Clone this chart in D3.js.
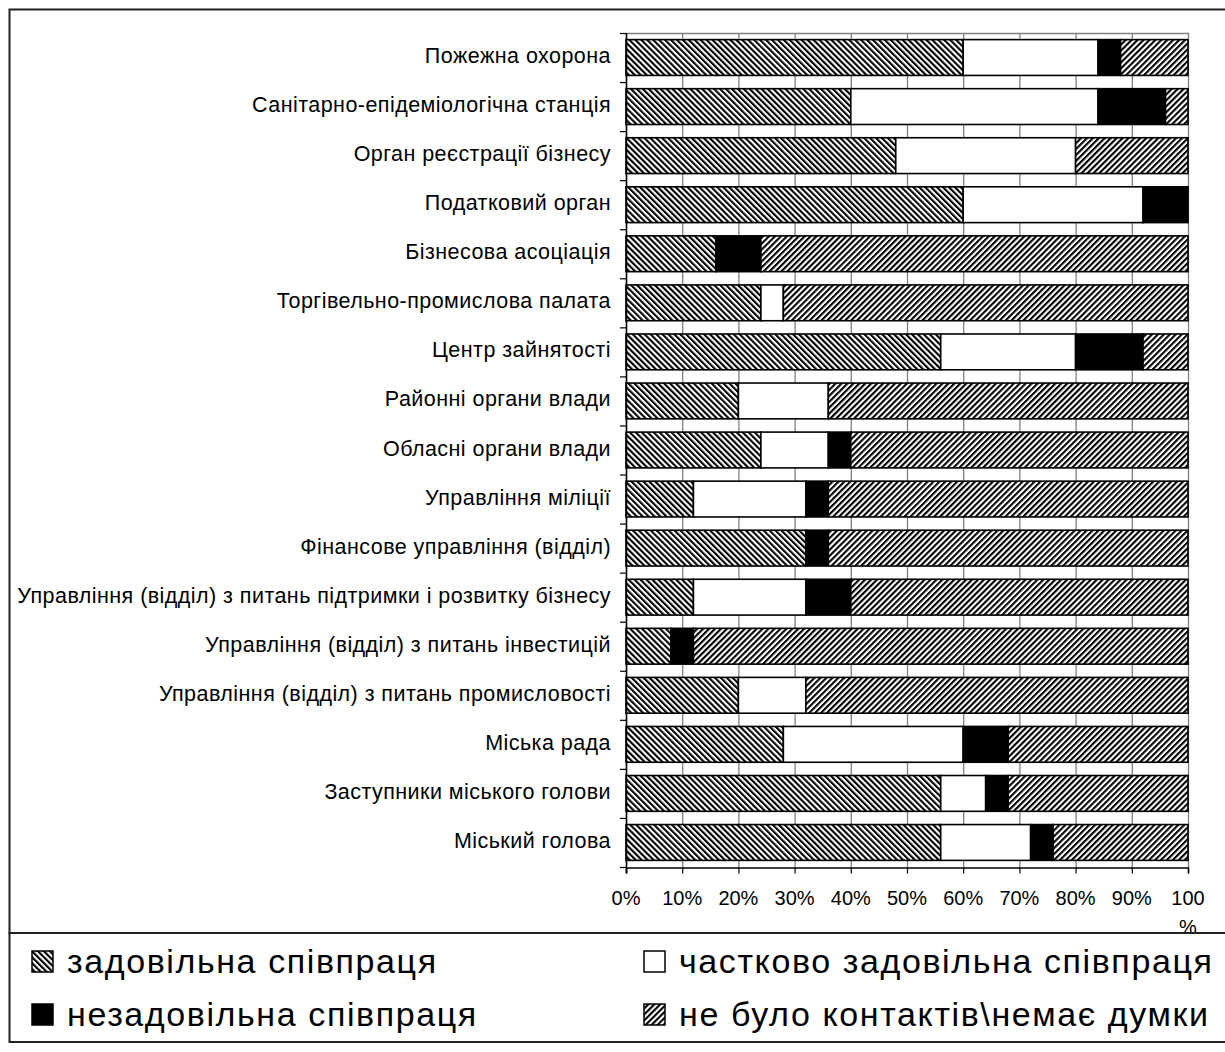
<!DOCTYPE html>
<html>
<head>
<meta charset="utf-8">
<script src="https://cdn.jsdelivr.net/npm/d3@7"></script>
<style>
  html, body { margin: 0; padding: 0; background: #fff; }
  svg { display: block; }
  text { font-family: "Liberation Sans", Arial, sans-serif; fill: #000; }
</style>
</head>
<body>
<svg id="chart" width="1225" height="1052"></svg>
<script>
// ---------- DATA ----------
const categories = [
  "Пожежна охорона",
  "Санітарно-епідеміологічна станція",
  "Орган реєстрації бізнесу",
  "Податковий орган",
  "Бізнесова асоціація",
  "Торгівельно-промислова палата",
  "Центр зайнятості",
  "Районні органи влади",
  "Обласні органи влади",
  "Управління міліції",
  "Фінансове управління (відділ)",
  "Управління (відділ) з питань підтримки і розвитку бізнесу",
  "Управління (відділ) з питань інвестицій",
  "Управління (відділ) з питань промисловості",
  "Міська рада",
  "Заступники міського голови",
  "Міський голова"
];
const seriesNames = [
  "задовільна співпраця",
  "частково задовільна співпраця",
  "незадовільна співпраця",
  "не було контактів\\немає думки"
];
const satisfactory   = [60, 40, 48, 60, 16, 24, 56, 20, 24, 12, 32, 12,  8, 20, 28, 56, 56];
const partial        = [24, 44, 32, 32,  0,  4, 24, 16, 12, 20,  0, 20,  0, 12, 32,  8, 16];
const unsatisfactory = [ 4, 12,  0,  8,  8,  0, 12,  0,  4,  4,  4,  8,  4,  0,  8,  4,  4];
const noContact      = [12,  4, 20,  0, 76, 72,  8, 64, 60, 64, 64, 60, 88, 68, 32, 32, 24];
const tickValues = [0, 10, 20, 30, 40, 50, 60, 70, 80, 90, 100];

// ---------- BUILD ----------
const seriesKeys = ["s0", "s1", "s2", "s3"];
const table = categories.map((c, i) => ({
  cat: c, s0: satisfactory[i], s1: partial[i], s2: unsatisfactory[i], s3: noContact[i]
}));
const stacked = d3.stack().keys(seriesKeys)(table);

const svg = d3.select("#chart");
const W = 1225, H = 1052;
const plot = { left: 626, right: 1188, top: 33, bottom: 867 };

const x = d3.scaleLinear().domain([0, 100]).range([plot.left, plot.right]);
const y = d3.scaleBand().domain(categories).range([plot.top, plot.bottom])
  .paddingInner(0.27).paddingOuter(0.135);

// patterns
const defs = svg.append("defs");
function stripe(id, angle) {
  const p = defs.append("pattern").attr("id", id)
    .attr("patternUnits", "userSpaceOnUse")
    .attr("width", 4.2).attr("height", 10)
    .attr("patternTransform", `rotate(${angle})`);
  p.append("rect").attr("width", 4.2).attr("height", 10).attr("fill", "#fff");
  p.append("rect").attr("width", 2.1).attr("height", 10).attr("fill", "#000");
}
stripe("pBack", -45);
stripe("pFwd", 45);
const fills = { s0: "url(#pBack)", s1: "#fff", s2: "#000", s3: "url(#pFwd)" };

// background
svg.append("rect").attr("width", W).attr("height", H).attr("fill", "#fff");

// outer chart frame
svg.append("rect").attr("x", 9.5).attr("y", 9.5).attr("width", 1300).attr("height", 923.5)
  .attr("fill", "none").attr("stroke", "#222").attr("stroke-width", 2);

// gridlines
svg.append("g").selectAll("line").data(tickValues).join("line")
  .attr("x1", d => x(d) + 0.5).attr("x2", d => x(d) + 0.5)
  .attr("y1", plot.top).attr("y2", plot.bottom)
  .attr("stroke", "#808080").attr("stroke-width", 1.3);
svg.append("line").attr("x1", plot.left).attr("x2", plot.right + 1)
  .attr("y1", plot.top + 0.5).attr("y2", plot.top + 0.5)
  .attr("stroke", "#808080").attr("stroke-width", 1.5);

// bars
svg.append("g").selectAll("g").data(stacked).join("g")
  .attr("fill", d => fills[d.key])
  .selectAll("rect").data(d => d.filter(s => s[1] - s[0] > 0)).join("rect")
  .attr("x", d => x(d[0]))
  .attr("y", d => y(d.data.cat))
  .attr("width", d => x(d[1]) - x(d[0]))
  .attr("height", y.bandwidth())
  .attr("stroke", "#000").attr("stroke-width", 1.6);

// left axis line + ticks at band boundaries
const step = y.step();
const boundaries = categories.map(c => y(c) - step * 0.135).concat([plot.bottom]);
const gy = svg.append("g");
gy.append("line").attr("x1", plot.left + 0.5).attr("x2", plot.left + 0.5)
  .attr("y1", plot.top).attr("y2", plot.bottom + 6)
  .attr("stroke", "#000").attr("stroke-width", 1.5);
gy.selectAll("line.t").data(boundaries).join("line").attr("class", "t")
  .attr("x1", plot.left - 6).attr("x2", plot.left)
  .attr("y1", d => d + 0.5).attr("y2", d => d + 0.5)
  .attr("stroke", "#000").attr("stroke-width", 1.2);

// category labels
gy.selectAll("text").data(categories).join("text")
  .attr("x", 611)
  .attr("y", c => y(c) + y.bandwidth() / 2 - 2)
  .attr("dy", "0.35em")
  .attr("text-anchor", "end")
  .attr("font-size", 21.5)
  .attr("letter-spacing", 0.45)
  .text(c => c);

// bottom axis
const gx = svg.append("g").attr("transform", `translate(0,${plot.bottom + 0.5})`)
  .call(d3.axisBottom(x).tickValues(tickValues).tickSize(6).tickPadding(0).tickFormat(() => ""));
gx.select(".domain").attr("stroke", "#000").attr("stroke-width", 1.5);
gx.selectAll(".tick line").attr("stroke", "#000").attr("stroke-width", 1.2);
const tl = svg.append("g").attr("font-size", 20).attr("text-anchor", "middle");
tickValues.forEach(v => {
  const t = tl.append("text").attr("x", x(v)).attr("y", 905);
  if (v === 100) {
    t.append("tspan").attr("x", x(v)).text("100");
    t.append("tspan").attr("x", x(v)).attr("dy", 29).text("%");
  } else {
    t.text(v + "%");
  }
});

// legend box
svg.append("rect").attr("x", 9.5).attr("y", 933).attr("width", 1300).attr("height", 109)
  .attr("fill", "#fff").attr("stroke", "#222").attr("stroke-width", 2);

const legendPos = [
  { x: 32, y: 951 }, { x: 644, y: 951 }, { x: 32, y: 1004 }, { x: 644, y: 1004 }
];
const lg = svg.append("g");
seriesKeys.forEach((k, i) => {
  const p = legendPos[i];
  lg.append("rect").attr("x", p.x).attr("y", p.y).attr("width", 21).attr("height", 21)
    .attr("fill", fills[k]).attr("stroke", "#000").attr("stroke-width", 1.5);
  lg.append("text").attr("x", p.x + 35).attr("y", p.y + 22)
    .attr("font-size", 34).attr("letter-spacing", 1.6).text(seriesNames[i]);
});
</script>
</body>
</html>
